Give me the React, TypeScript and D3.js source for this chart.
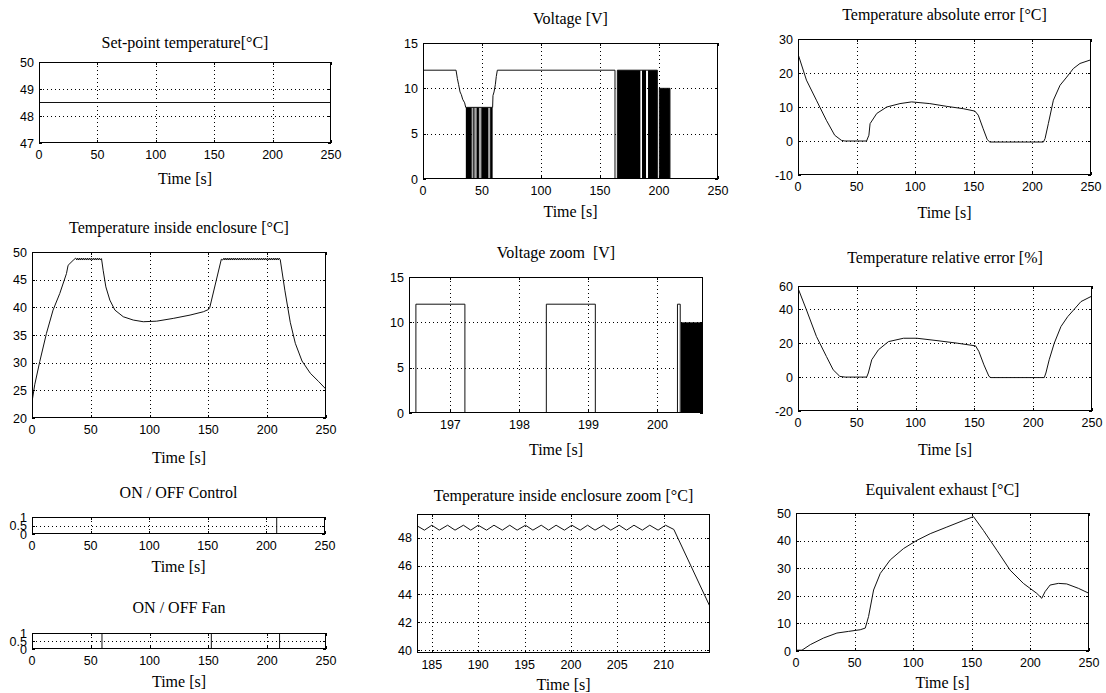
import React from 'react';
import * as d3 from 'd3';

type Pt = [number, number];
type Band = [number, number, number]; // start, end, level

// ---- data ----
const timeTicks = [0, 50, 100, 150, 200, 250];

const setpoint: Pt[] = [[0, 48.5], [250, 48.5]];

const voltage: Pt[] = [
  [0, 12], [28, 12], [29.1, 11.1], [30.2, 10.4], [31.4, 9.6], [32.5, 9.3], [33.6, 8.8], [35.3, 8.4], [36.2, 7.9],
  [59, 7.9], [59.3, 9.2], [60.2, 9.6], [61.3, 10.4], [62.1, 11.3], [63, 12],
  [162.7, 12], [162.7, 0], [164.7, 0], [164.7, 12], [198.6, 12], [198.6, 0], [200.3, 0],
  [200.3, 10], [209.3, 10], [209.3, 0], [250, 0],
];
const voltageDense: Band[] = [
  [36.3, 41.3, 7.9], [42.6, 43.6, 7.9], [45.4, 47.4, 7.9], [49.4, 55.3, 7.9], [56.9, 59, 7.9],
  [164.7, 184.2, 12], [185.6, 189, 12], [190.7, 198.6, 12], [200.3, 209.3, 10],
];
const voltageSparse: Band[] = [
  [41.3, 42.6, 7.9], [43.6, 45.4, 7.9], [47.4, 49.4, 7.9], [55.3, 56.9, 7.9],
];

const voltageZoom: Pt[] = [
  [196.3, 0], [196.5, 0], [196.5, 12], [197.21, 12], [197.21, 0], [198.39, 0], [198.39, 12],
  [199.1, 12], [199.1, 0], [200.29, 0], [200.29, 12], [200.33, 12], [200.33, 0],
];
const voltageZoomDense: Band[] = [[200.34, 200.7, 10]];

const tempInside: Pt[] = [
  [0, 22.9], [2.3, 26], [6.6, 30.2], [12.3, 35.3], [17.9, 39.5], [23.6, 42.5], [29.3, 46.1], [30.7, 47.6], [35, 48.5],
  [37.2, 48.9], [38.1, 48.55], [38.9, 48.9], [39.8, 48.55], [40.6, 48.9], [41.4, 48.55], [42.3, 48.9], [43.1, 48.55],
  [43.9, 48.9], [44.8, 48.55], [45.6, 48.9], [46.5, 48.55], [47.3, 48.9], [48.1, 48.55], [49, 48.9], [49.8, 48.55],
  [50.6, 48.9], [51.5, 48.55], [52.3, 48.9], [53.2, 48.55], [54, 48.9], [54.8, 48.55], [55.7, 48.9], [56.5, 48.55],
  [57.4, 48.9], [58.2, 48.55], [59.1, 48.8],
  [60.5, 46.7], [62.8, 43.7], [66.2, 41.3], [70.5, 39.5], [77.6, 38.3], [86.1, 37.7], [94.6, 37.4], [106, 37.5],
  [120.1, 38], [134.4, 38.6], [145.7, 39.2], [150, 39.6], [151.2, 40], [161, 48.7],
  [162.3, 48.55], [163.2, 48.9], [164, 48.55], [164.8, 48.9], [165.7, 48.55], [166.5, 48.9], [167.4, 48.55], [168.2, 48.9],
  [169, 48.55], [169.9, 48.9], [170.7, 48.55], [171.6, 48.9], [172.4, 48.55], [173.2, 48.9], [174.1, 48.55], [174.9, 48.9],
  [175.8, 48.55], [176.6, 48.9], [177.4, 48.55], [178.3, 48.9], [179.1, 48.55], [180, 48.9], [180.8, 48.55], [181.6, 48.9],
  [182.5, 48.55], [183.3, 48.9], [184.2, 48.55], [185, 48.9], [185.8, 48.55], [186.7, 48.9], [187.5, 48.55], [188.4, 48.9],
  [189.2, 48.55], [190, 48.9], [190.9, 48.55], [191.7, 48.9], [192.6, 48.55], [193.4, 48.9], [194.2, 48.55], [195.1, 48.9],
  [195.9, 48.55], [196.8, 48.9], [197.6, 48.55], [198.4, 48.9], [199.3, 48.55], [200.1, 48.9], [201, 48.55], [201.8, 48.9],
  [202.6, 48.55], [203.5, 48.9], [204.3, 48.55], [205.2, 48.9], [206, 48.55], [206.8, 48.9], [207.7, 48.55], [208.5, 48.9],
  [209.4, 48.55], [210.2, 48.9], [211.1, 48.6],
  [215, 43.1], [219.6, 37.3], [223.9, 33.5], [229.6, 30.3], [236.6, 28.1], [243.7, 26.6], [250, 25.2],
];

const absError: Pt[] = [
  [0, 25.6], [7.2, 17.9], [15.7, 12], [24.2, 6.1], [31.3, 1.7], [37, 0.2], [40, 0], [58.5, 0], [60.5, 1.7],
  [61.5, 5.1], [67.2, 8.1], [75.7, 10], [87, 11], [96.9, 11.5], [112.5, 11], [126.7, 10.2], [141, 9.5],
  [150.9, 8.8], [153.8, 7.6], [158, 3.6], [161.5, 0.4], [163.7, -0.3], [209.4, -0.3], [210.8, 0.7],
  [213.6, 5.1], [217.9, 12], [223.6, 16.4], [229.3, 18.8], [234.9, 21.3], [240.6, 22.8], [250, 23.9],
];

const relError: Pt[] = [
  [0, 52.4], [7.2, 39.6], [15.7, 23.9], [24.2, 12.1], [29.9, 4.3], [35.6, 0.4], [40, 0], [58.4, 0], [59.8, 2.4],
  [62.7, 10.2], [68.4, 16.1], [76.9, 20.9], [89.7, 22.9], [101.1, 22.9], [118.2, 21.5], [135.3, 20], [151, 18.4],
  [153.8, 15.1], [158.1, 7.2], [162.4, 0.4], [164, -0.3], [209.4, -0.3], [210.8, 2.4], [213.6, 10.2],
  [217.9, 20], [223.6, 29.8], [229.3, 35.6], [234.9, 40], [240.6, 44.5], [250, 47.8],
];

const controlOnOff: Pt[] = [[0, 1], [208.8, 1], [208.8, 0], [250, 0]];
const fanOnOff: Pt[] = [[0, 0], [59.5, 0], [59.5, 1], [152.5, 1], [152.5, 0], [210.5, 0], [210.5, 1], [250, 1]];

const exhaust: Pt[] = [
  [0, 0.3], [5.1, 0.3], [12.2, 2.3], [23.5, 4.7], [34.9, 6.5], [44.8, 7.1], [54.8, 7.7], [59.1, 8.3], [61.9, 12.5],
  [66.2, 22.1], [71.9, 28.1], [80.4, 33], [91.7, 37.1], [103.2, 40.1], [114.5, 42.5], [128.7, 44.9], [142.9, 47.3],
  [151.4, 48.7], [159.9, 43.7], [171.4, 36.5], [182.7, 29.3], [194, 24.5], [205.4, 20.9], [209.7, 19.1],
  [212.5, 21.5], [216.8, 23.9], [223.9, 24.5], [231, 24.3], [241, 22.7], [250, 20.9],
];

// ---- layout ----
type PanelCfg = {
  key: string;
  title: string;
  box: [number, number, number, number]; // left, right, top, bottom
  titleY: number;
  xlabelY: number;
  xDomain: [number, number];
  yDomain: [number, number];
  xTicks: number[];
  yTicks: number[];
  series: Pt[];
  dense?: Band[];
  sparse?: Band[];
};

const panels: PanelCfg[] = [
  { key: 'sp', title: 'Set-point temperature[°C]', box: [39, 331, 62, 143], titleY: 48, xlabelY: 184,
    xDomain: [0, 250], yDomain: [47, 50], xTicks: timeTicks, yTicks: [47, 48, 49, 50], series: setpoint },
  { key: 'v', title: 'Voltage [V]', box: [423, 718, 43, 179], titleY: 24, xlabelY: 217,
    xDomain: [0, 250], yDomain: [0, 15], xTicks: timeTicks, yTicks: [0, 5, 10, 15], series: voltage,
    dense: voltageDense, sparse: voltageSparse },
  { key: 'ae', title: 'Temperature absolute error [°C]', box: [798, 1091, 39, 175], titleY: 20, xlabelY: 218,
    xDomain: [0, 250], yDomain: [-10, 30], xTicks: timeTicks, yTicks: [-10, 0, 10, 20, 30], series: absError },
  { key: 'ti', title: 'Temperature inside enclosure [°C]', box: [32, 326, 252, 418], titleY: 233, xlabelY: 463,
    xDomain: [0, 250], yDomain: [20, 50], xTicks: timeTicks, yTicks: [20, 25, 30, 35, 40, 45, 50], series: tempInside },
  { key: 'vz', title: 'Voltage zoom  [V]', box: [409, 703, 277, 413], titleY: 258, xlabelY: 455,
    xDomain: [196.4, 200.66], yDomain: [0, 15], xTicks: [197, 198, 199, 200], yTicks: [0, 5, 10, 15],
    series: voltageZoom, dense: voltageZoomDense },
  { key: 're', title: 'Temperature relative error [%]', box: [798, 1092, 286, 411], titleY: 263, xlabelY: 455,
    xDomain: [0, 250], yDomain: [-20, 53.7], xTicks: timeTicks, yTicks: [-20, 0, 20, 40, 60], series: relError },
  { key: 'oc', title: 'ON / OFF Control', box: [32, 325, 517, 534], titleY: 498, xlabelY: 572,
    xDomain: [0, 250], yDomain: [0, 1], xTicks: timeTicks, yTicks: [0, 0.5, 1], series: controlOnOff },
  { key: 'of', title: 'ON / OFF Fan', box: [32, 326, 633, 649], titleY: 613, xlabelY: 687,
    xDomain: [0, 250], yDomain: [0, 1], xTicks: timeTicks, yTicks: [0, 0.5, 1], series: fanOnOff },
  { key: 'tz', title: 'Temperature inside enclosure zoom [°C]', box: [417, 710, 514, 653], titleY: 501, xlabelY: 690,
    xDomain: [183.4, 215], yDomain: [39.8, 49.7], xTicks: [185, 190, 195, 200, 205, 210], yTicks: [40, 42, 44, 46, 48],
    series: tempInside },
  { key: 'ex', title: 'Equivalent exhaust [°C]', box: [796, 1089, 513, 651], titleY: 495, xlabelY: 688,
    xDomain: [0, 250], yDomain: [0, 50], xTicks: timeTicks, yTicks: [0, 10, 20, 30, 40, 50], series: exhaust },
];

const SERIF = "'Liberation Serif', 'Times New Roman', serif";
const SANS = "'Liberation Sans', Arial, sans-serif";

function Panel({ cfg }: { cfg: PanelCfg }) {
  const [l, r, t, b] = cfg.box;
  const x = d3.scaleLinear().domain(cfg.xDomain).range([l, r]);
  const y = d3.scaleLinear().domain(cfg.yDomain).range([b, t]);
  const yc = y.copy().clamp(true);
  const line = d3.line<Pt>().x(d => x(d[0])).y(d => y(d[1]));
  const clipId = `clip-${cfg.key}`;
  const cx = (l + r) / 2;

  return (
    <g>
      <clipPath id={clipId}>
        <rect x={l} y={t} width={r - l} height={b - t} />
      </clipPath>
      <rect x={l} y={t} width={r - l} height={b - t} fill="#fff" />
      {/* grid */}
      <g stroke="#000" strokeWidth={1} strokeDasharray="1 3" shapeRendering="crispEdges">
        {cfg.xTicks.filter(v => Math.abs(x(v) - l) > 1 && Math.abs(x(v) - r) > 1).map(v => (
          <line key={'gx' + v} x1={Math.round(x(v)) + 0.5} x2={Math.round(x(v)) + 0.5} y1={t} y2={b} />
        ))}
        {cfg.yTicks.filter(v => Math.abs(yc(v) - t) > 1 && Math.abs(yc(v) - b) > 1).map(v => (
          <line key={'gy' + v} x1={l} x2={r} y1={Math.round(y(v)) + 0.5} y2={Math.round(y(v)) + 0.5} />
        ))}
      </g>
      {/* data */}
      <g clipPath={`url(#${clipId})`}>
        {(cfg.sparse || []).map((d, i) => (
          <rect key={'s' + i} x={x(d[0])} width={x(d[1]) - x(d[0])} y={y(d[2])} height={y(0) - y(d[2])} fill="#a8a8a8" />
        ))}
        {(cfg.dense || []).map((d, i) => (
          <rect key={'d' + i} x={x(d[0])} width={x(d[1]) - x(d[0])} y={y(d[2])} height={y(0) - y(d[2])} fill="#000" />
        ))}
        <path d={line(cfg.series) || ''} fill="none" stroke="#111" strokeWidth={1} />
      </g>
      {/* box */}
      <rect x={l + 0.5} y={t + 0.5} width={r - l - 1} height={b - t - 1} fill="none" stroke="#000" strokeWidth={1} shapeRendering="crispEdges" />
      {/* tick marks */}
      <g stroke="#000" strokeWidth={1} shapeRendering="crispEdges">
        {cfg.xTicks.map(v => (
          <g key={'tx' + v}>
            <line x1={Math.round(x(v)) + 0.5} x2={Math.round(x(v)) + 0.5} y1={b} y2={b - 3} />
            <line x1={Math.round(x(v)) + 0.5} x2={Math.round(x(v)) + 0.5} y1={t} y2={t + 3} />
          </g>
        ))}
        {cfg.yTicks.map(v => (
          <g key={'ty' + v}>
            <line x1={l} x2={l + 3} y1={Math.round(yc(v)) + 0.5} y2={Math.round(yc(v)) + 0.5} />
            <line x1={r} x2={r - 3} y1={Math.round(yc(v)) + 0.5} y2={Math.round(yc(v)) + 0.5} />
          </g>
        ))}
      </g>
      {/* tick labels */}
      <g fontFamily={SANS} fontSize={12.5} fill="#000">
        {cfg.xTicks.map(v => (
          <text key={'lx' + v} x={x(v)} y={b + 16} textAnchor="middle">{v}</text>
        ))}
        {cfg.yTicks.map(v => (
          <text key={'ly' + v} x={l - 5} y={yc(v)} dy="0.36em" textAnchor="end">{v}</text>
        ))}
      </g>
      <text x={cx} y={cfg.titleY} textAnchor="middle" fontFamily={SERIF} fontSize={16} style={{ whiteSpace: 'pre' }}>
        {cfg.title}
      </text>
      <text x={cx} y={cfg.xlabelY} textAnchor="middle" fontFamily={SERIF} fontSize={16}>Time [s]</text>
    </g>
  );
}

export default function App() {
  return (
    <svg width={1106} height={693} style={{ position: 'absolute', left: 0, top: 0, background: '#fff' }}>
      <rect width={1106} height={693} fill="#fff" />
      {panels.map(p => <Panel key={p.key} cfg={p} />)}
    </svg>
  );
}
